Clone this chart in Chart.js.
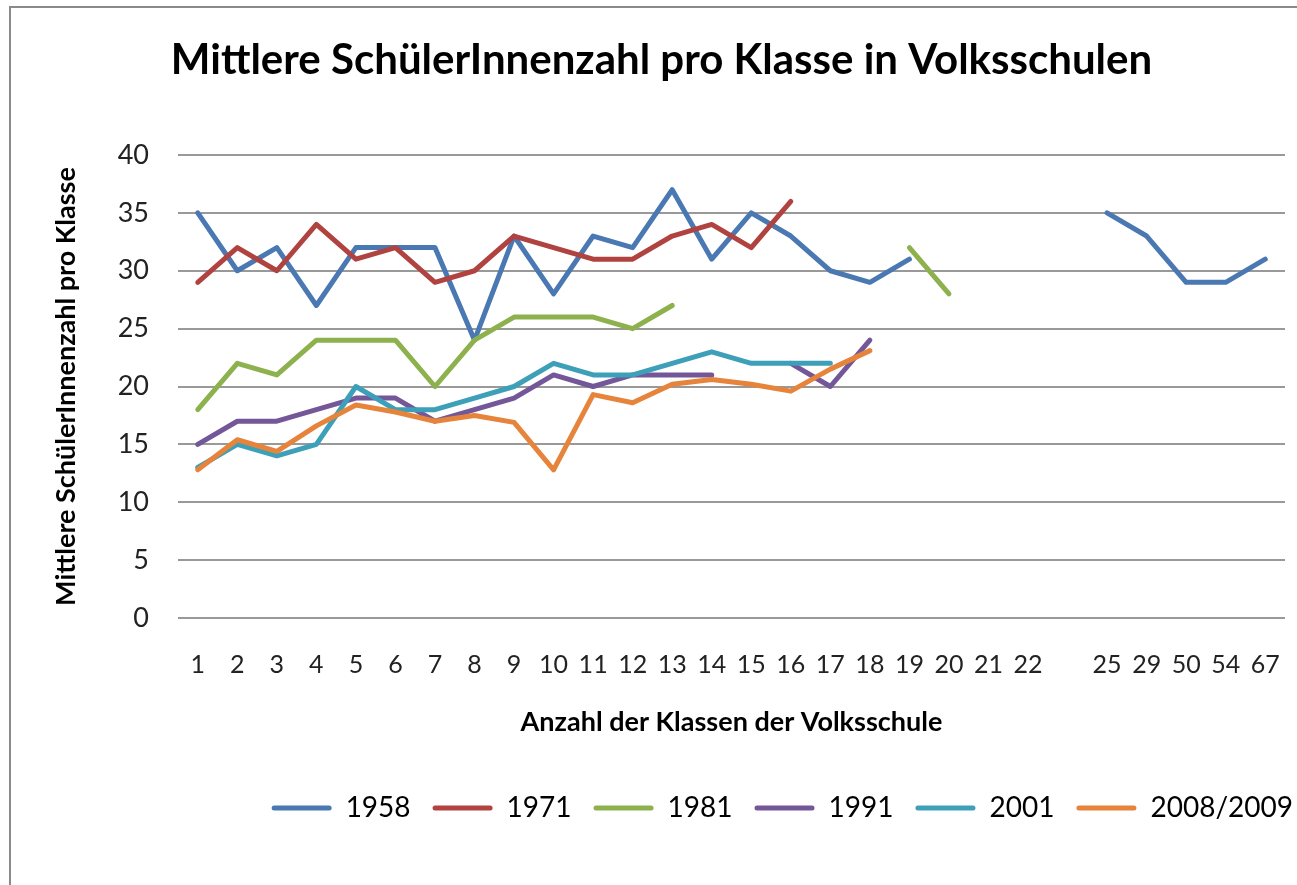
<!DOCTYPE html>
<html>
<head>
<meta charset="utf-8">
<script src="https://cdn.jsdelivr.net/npm/chart.js@4.4.1/dist/chart.umd.min.js"></script>
<style>
  body { margin: 0; background: #fff; overflow: hidden; }
  #frame { position: absolute; left: 9px; top: 6px; width: 1400px; height: 1000px;
           border-left: 2px solid #8a8a8a; border-top: 2px solid #8a8a8a; }
  #chart { position: absolute; left: 0; top: 0; }
</style>
</head>
<body>
<div id="frame"></div>
<canvas id="chart" width="1297" height="885"></canvas>
<script>
// Anzahl der Klassen (one blank category between 22 and 25)
const classes = ['1','2','3','4','5','6','7','8','9','10','11','12','13','14','15','16','17','18','19','20','21','22','','25','29','50','54','67']
const years = ['1958', '1971', '1981', '1991', '2001', '2008/2009']
const colors = ['#4A78B2', '#B0433F', '#8DB14D', '#735798', '#3E9FB9', '#E5843A']

const s1958 = [35,30,32,27,32,32,32,24,33,28,33,32,37,31,35,33,30,29,31,null,null,null,null,35,33,29,29,31]
const s1971 = [29,32,30,34,31,32,29,30,33,32,31,31,33,34,32,36]
const s1981 = [18,22,21,24,24,24,20,24,26,26,26,25,27,null,null,null,null,null,32,28]
const s1991 = [15,17,17,18,19,19,17,18,19,21,20,21,21,21,null,22,20,24]
const s2001 = [13,15,14,15,20,18,18,19,20,22,21,21,22,23,22,22,22]
const s2008 = [12.8,15.4,14.4,16.6,18.4,17.8,17.0,17.5,16.9,12.8,19.3,18.6,20.2,20.6,20.2,19.6,21.5,23.1]

const yTicks = [0, 5, 10, 15, 20, 25, 30, 35, 40]

const seriesData = [s1958, s1971, s1981, s1991, s2001, s2008]
const FONT = 'Lato'

const datasets = years.map((y, i) => ({
    label: y,
    data: seriesData[i],
    borderColor: colors[i],
    backgroundColor: colors[i],
    borderWidth: 5,
    pointRadius: 0,
    pointHoverRadius: 0,
    borderCapStyle: 'round',
    borderJoinStyle: 'round',
    tension: 0,
    spanGaps: false,
    order: years.length - i,   // later series on top, like Excel
}))

const ctx = document.getElementById('chart')
const myChart = new Chart(ctx, {
    type: 'line',
    data: { labels: classes, datasets: datasets },
    options: {
        responsive: false,
        animation: false,
        layout: { padding: { left: 8, right: -18, top: 0, bottom: 53 } },
        plugins: {
            title: {
                display: true,
                text: 'Mittlere SchülerInnenzahl pro Klasse in Volksschulen',
                color: '#000',
                font: { family: FONT, size: 42, weight: 'bold' },
                padding: { top: 34.8, bottom: 69.8 },
            },
            legend: {
                position: 'bottom',
                align: 'end',
                labels: {
                    color: '#000',
                    font: { family: FONT, size: 28 },
                    boxWidth: 60,
                    boxHeight: 5,
                    padding: 22,
                    useBorderRadius: true,
                    borderRadius: 2.5,
                    sort: (a, b) => a.datasetIndex - b.datasetIndex,
                    generateLabels: (chart) => Chart.defaults.plugins.legend.labels.generateLabels(chart)
                        .map(l => Object.assign(l, { lineWidth: 0 })),
                },
            },
            tooltip: { enabled: false },
        },
        scales: {
            x: {
                offset: true,
                grid: { display: false, drawTicks: true, tickLength: 29, offset: true },
                border: { display: false },
                ticks: {
                    color: '#222',
                    font: { family: FONT, size: 25 },
                    padding: 3,
                    autoSkip: false,
                    maxRotation: 0,
                },
                title: {
                    display: true,
                    text: 'Anzahl der Klassen der Volksschule',
                    color: '#000',
                    font: { family: FONT, size: 27, weight: 'bold' },
                    padding: { top: 0, bottom: 33.8 },
                },
                afterFit: (scale) => { scale.height = 154 },
            },
            y: {
                min: 0,
                max: 40,
                afterBuildTicks: (scale) => { scale.ticks = yTicks.map(v => ({ value: v })) },
                grid: { color: '#999', lineWidth: 2, drawTicks: false },
                border: { display: false },
                ticks: {
                    color: '#222',
                    font: { family: FONT, size: 27 },
                    padding: 29,
                },
                title: {
                    display: true,
                    text: 'Mittlere SchülerInnenzahl pro Klasse',
                    color: '#000',
                    font: { family: FONT, size: 27, weight: 'bold' },
                    padding: { top: 41.8, bottom: 0 },
                },
                afterFit: (scale) => { scale.width = 170 },
            },
            yR: {
                type: 'linear',
                position: 'right',
                min: 0,
                max: 1,
                grid: { display: false, drawTicks: false },
                border: { display: false },
                ticks: { display: false },
                afterFit: (scale) => { scale.width = 30 },
            },
        },
    },
})
</script>
</body>
</html>
